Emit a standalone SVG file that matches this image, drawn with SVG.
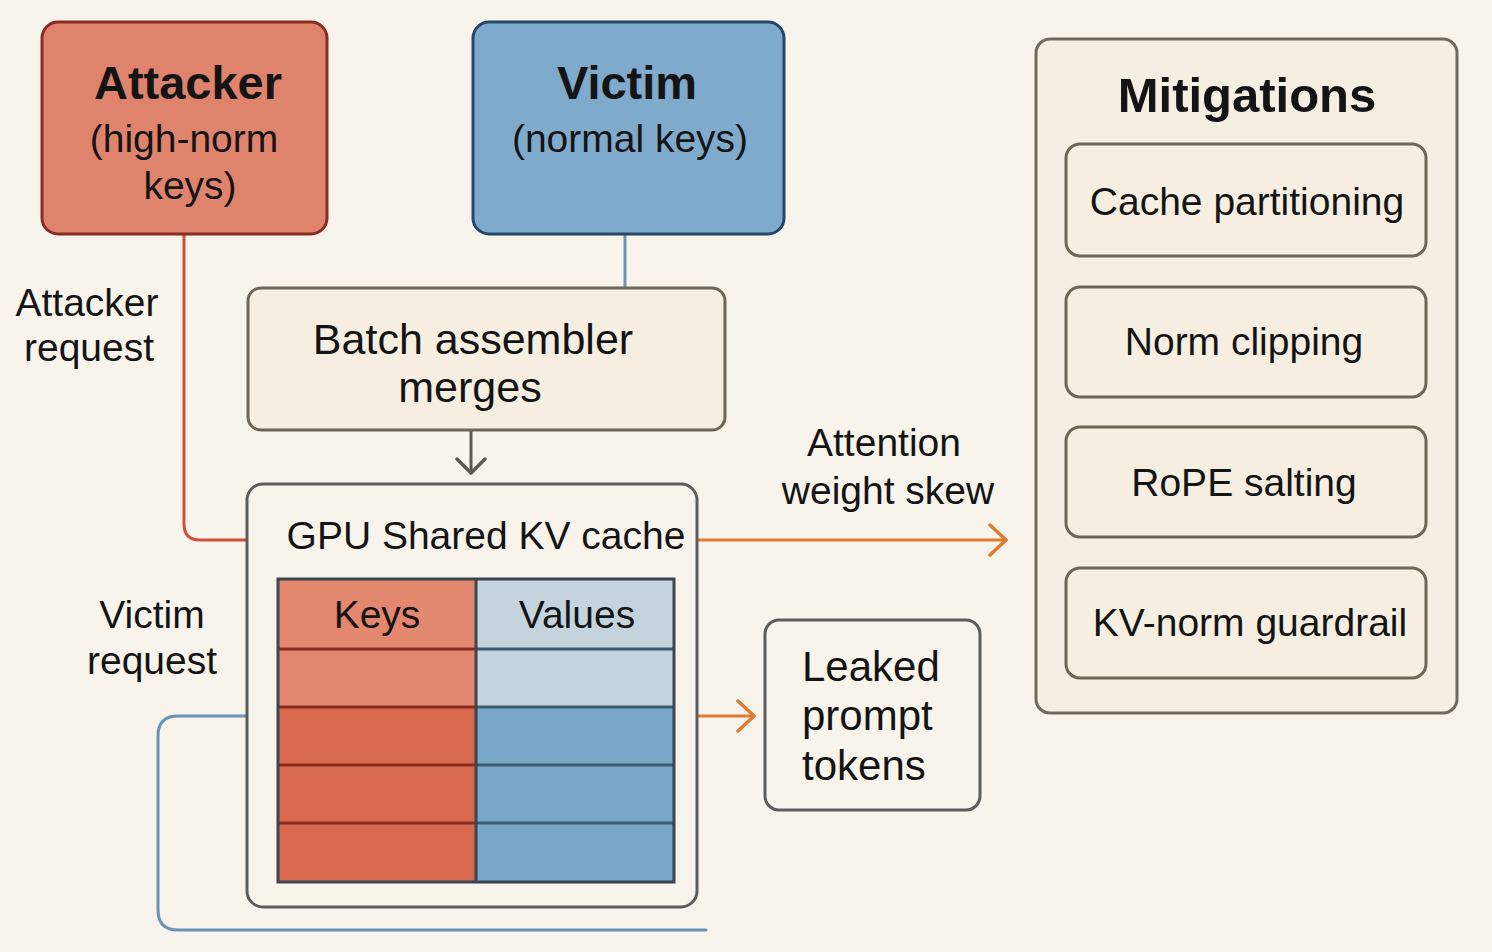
<svg xmlns="http://www.w3.org/2000/svg" width="1492" height="952" viewBox="0 0 1492 952">
<defs>
<style>
text{font-family:"Liberation Sans",Arial,sans-serif;fill:#141414;}
.t{font-size:39px;}
.b{font-size:47px;font-weight:bold;}
.c{text-anchor:middle;}
.box{fill:#f6efe1;stroke:#6b6656;stroke-width:3;}
.conn{fill:none;stroke-width:3;stroke-linecap:round;stroke-linejoin:round;}
</style>
<marker id="arrO" viewBox="0 0 20 34" refX="18" refY="17" markerWidth="20" markerHeight="34" markerUnits="userSpaceOnUse" orient="auto">
<path d="M2,2 L18,17 L2,32" fill="none" stroke="#e07a32" stroke-width="3.5" stroke-linecap="round" stroke-linejoin="round"/>
</marker>
<marker id="arrG" viewBox="0 0 18 32" refX="16" refY="16" markerWidth="18" markerHeight="32" markerUnits="userSpaceOnUse" orient="auto">
<path d="M2,2 L16,16 L2,30" fill="none" stroke="#5f5a50" stroke-width="3.5" stroke-linecap="round" stroke-linejoin="round"/>
</marker>
</defs>
<rect width="1492" height="952" fill="#f8f4ec"/>

<g id="connectors">
<path class="conn" d="M184 235 V524 Q184 540 200 540 H247" stroke="#cf4f38"/>
<path class="conn" d="M625 235 V288" stroke="#6a93b5"/>
<path class="conn" d="M471 431 V473" stroke="#5f5a50" marker-end="url(#arrG)"/>
<path class="conn" d="M698 540 H1006" stroke="#e07a32" marker-end="url(#arrO)"/>
<path class="conn" d="M675 716 H754" stroke="#e07a32" marker-end="url(#arrO)"/>
<path class="conn" d="M247 716 H178 Q158 716 158 736 V910 Q158 930 178 930 H706" stroke="#6a93b5"/>
</g>

<g id="label-attacker-request">
<text class="t c" x="87" y="316">Attacker</text>
<text class="t c" x="89" y="361">request</text>
</g>
<g id="label-victim-request">
<text class="t c" x="152" y="628">Victim</text>
<text class="t c" x="152" y="674">request</text>
</g>
<g id="label-attention">
<text class="t c" x="884" y="456">Attention</text>
<text class="t c" x="888" y="504">weight skew</text>
</g>

<g id="attacker">
<rect x="42" y="22" width="285" height="212" rx="16" fill="#e0836d" stroke="#8c2b22" stroke-width="3"/>
<text class="b c" x="188" y="99">Attacker</text>
<text class="t c" x="184" y="152">(high-norm</text>
<text class="t c" x="190" y="199">keys)</text>
</g>

<g id="victim">
<rect x="473" y="22" width="311" height="212" rx="16" fill="#80aacb" stroke="#24466a" stroke-width="3"/>
<text class="b c" x="627" y="99">Victim</text>
<text class="t c" x="630" y="152">(normal keys)</text>
</g>

<g id="batch">
<rect class="box" x="248" y="288" width="477" height="142" rx="13"/>
<text class="c" x="473" y="354" font-size="43">Batch assembler</text>
<text class="c" x="470" y="402" font-size="43">merges</text>
</g>

<g id="kvcache">
<rect x="247" y="484" width="450" height="423" rx="16" fill="#f8f4ec" stroke="#5c5c5c" stroke-width="3"/>
<text class="t c" x="486" y="549" font-size="40">GPU Shared KV cache</text>
<g id="table">
<rect x="278" y="579" width="197" height="69" fill="#e3876f"/>
<rect x="278" y="648" width="197" height="58" fill="#e28670"/>
<rect x="278" y="706" width="197" height="176" fill="#d96a50"/>
<rect x="475" y="579" width="199" height="69" fill="#c5d4dc"/>
<rect x="475" y="648" width="199" height="58" fill="#c3d3dc"/>
<rect x="475" y="706" width="199" height="176" fill="#79a7c7"/>
<g stroke="#8a2a1e" stroke-width="3">
<line x1="279" y1="649" x2="475" y2="649"/>
<line x1="279" y1="707" x2="475" y2="707"/>
<line x1="279" y1="765" x2="475" y2="765"/>
<line x1="279" y1="823" x2="475" y2="823"/>
</g>
<g stroke="#3d5a72" stroke-width="3">
<line x1="475" y1="649" x2="673" y2="649"/>
<line x1="475" y1="707" x2="673" y2="707"/>
<line x1="475" y1="765" x2="673" y2="765"/>
<line x1="475" y1="823" x2="673" y2="823"/>
</g>
<line x1="476" y1="579" x2="476" y2="882" stroke="#3a4550" stroke-width="3"/>
<rect x="278" y="579" width="396" height="303" fill="none" stroke="#3a4550" stroke-width="3"/>
<text class="t c" x="377" y="628">Keys</text>
<text class="t c" x="577" y="628">Values</text>
</g>
</g>

<g id="leaked">
<rect x="765" y="620" width="215" height="190" rx="14" fill="#f8f4ec" stroke="#5c5c5c" stroke-width="3"/>
<text x="802" y="681" font-size="42">Leaked</text>
<text x="802" y="730" font-size="42">prompt</text>
<text x="802" y="780" font-size="42">tokens</text>
</g>

<g id="mitigations">
<rect x="1036" y="39" width="421" height="674" rx="14" fill="#f5eee2" stroke="#6e6a5e" stroke-width="3"/>
<text class="c" x="1247" y="112" font-size="49" font-weight="bold">Mitigations</text>
<g id="m-cache">
<rect class="box" x="1066" y="144" width="360" height="112" rx="14"/>
<text class="t c" x="1247" y="215">Cache partitioning</text>
</g>
<g id="m-norm">
<rect class="box" x="1066" y="287" width="360" height="110" rx="14"/>
<text class="t c" x="1244" y="355">Norm clipping</text>
</g>
<g id="m-rope">
<rect class="box" x="1066" y="427" width="360" height="110" rx="14"/>
<text class="t c" x="1244" y="496">RoPE salting</text>
</g>
<g id="m-guard">
<rect class="box" x="1066" y="568" width="360" height="110" rx="14"/>
<text class="t c" x="1250" y="636">KV-norm guardrail</text>
</g>
</g>
</svg>
